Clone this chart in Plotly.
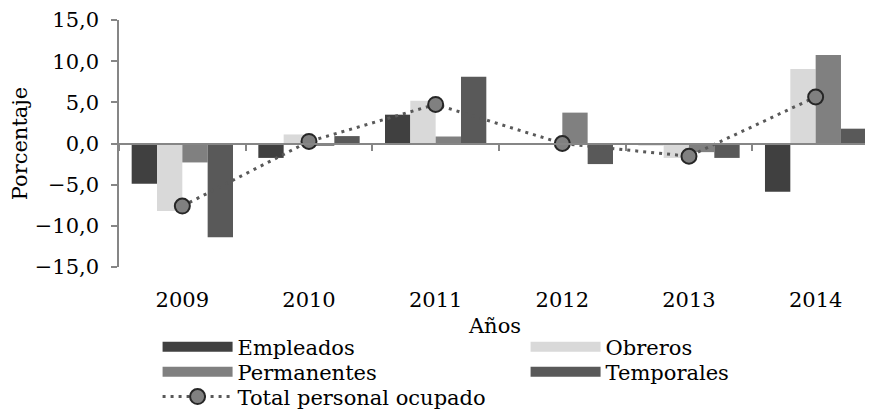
import plotly.graph_objects as go

years = ["2009", "2010", "2011", "2012", "2013", "2014"]
empleados = [-4.9, -1.75, 3.5, -0.1, -0.2, -5.85]
obreros = [-8.2, 1.1, 5.2, 0.05, -1.75, 9.05]
permanentes = [-2.3, -0.3, 0.85, 3.75, -1.05, 10.75]
temporales = [-11.4, 0.9, 8.1, -2.5, -1.75, 1.8]
total = [-7.6, 0.25, 4.75, 0.0, -1.55, 5.65]

series = [
    ("Empleados", empleados, "#404040", "legend"),
    ("Obreros", obreros, "#d9d9d9", "legend"),
    ("Permanentes", permanentes, "#808080", "legend2"),
    ("Temporales", temporales, "#595959", "legend2"),
]

FONT = "DejaVu Serif"
FS = 21
LFS = 21
AXC = "#868686"

fig = go.Figure()
for name, vals, col, lg in series:
    fig.add_trace(go.Bar(x=years, y=vals, name=name, marker_color=col,
                         marker_line_width=0, showlegend=False))
    # legend proxy with wide swatch
    fig.add_trace(go.Scatter(x=[None], y=[None], mode="lines", name=name,
                             legend=lg, line=dict(color=col, width=15)))

fig.add_trace(go.Scatter(x=years, y=total, name="Total personal ocupado",
                         mode="lines+markers", xaxis="x2", legend="legend3",
                         line=dict(color="#595959", width=3, dash="3px,5px"),
                         marker=dict(size=15, color="#808080",
                                     line=dict(color="#262626", width=2))))

xr = [-0.5, 5.437]
lx = 0.0513
legcommon = dict(orientation="h", x=lx, xanchor="left", yanchor="middle",
                 itemwidth=70, entrywidth=283, tracegroupgap=0,
                 font=dict(family=FONT, size=LFS), bgcolor="rgba(0,0,0,0)")
fig.update_layout(
    width=873, height=415,
    margin=dict(l=111, r=10, t=12, b=156, autoexpand=False),
    paper_bgcolor="white", plot_bgcolor="white",
    barmode="group", bargap=0.2, bargroupgap=0,
    separators=",.",
    font=dict(family=FONT, size=FS, color="#000000"),
    xaxis=dict(type="category", range=xr, showline=False, ticks="",
               showgrid=False, zeroline=False,
               tickfont=dict(family=FONT, size=FS),
               title=dict(text="Años", font=dict(family=FONT, size=FS), standoff=7),
               ticklabelstandoff=18),
    xaxis2=dict(type="category", range=xr, overlaying="x", anchor="free",
                position=0.5, side="bottom", showline=True, linecolor=AXC,
                linewidth=1.5, ticks="outside", ticklen=7, tickcolor=AXC,
                tickwidth=1.5, tickson="boundaries", showticklabels=False,
                showgrid=False, zeroline=False,
                categoryorder="array", categoryarray=years),
    yaxis=dict(range=[-15, 15], dtick=5, tickformat=".1f", showgrid=False,
               zeroline=False, showline=True, linecolor=AXC, linewidth=1.5,
               ticks="outside", ticklen=6, tickcolor=AXC, tickwidth=1.5,
               tickfont=dict(family=FONT, size=FS), ticklabelstandoff=8,
               title=dict(text="Porcentaje", font=dict(family=FONT, size=FS), standoff=11)),
    legend=dict(y=-0.324, **legcommon),
    legend2=dict(y=-0.425, **legcommon),
    legend3=dict(y=-0.526, **legcommon),
)

fig.write_html("out.html")
